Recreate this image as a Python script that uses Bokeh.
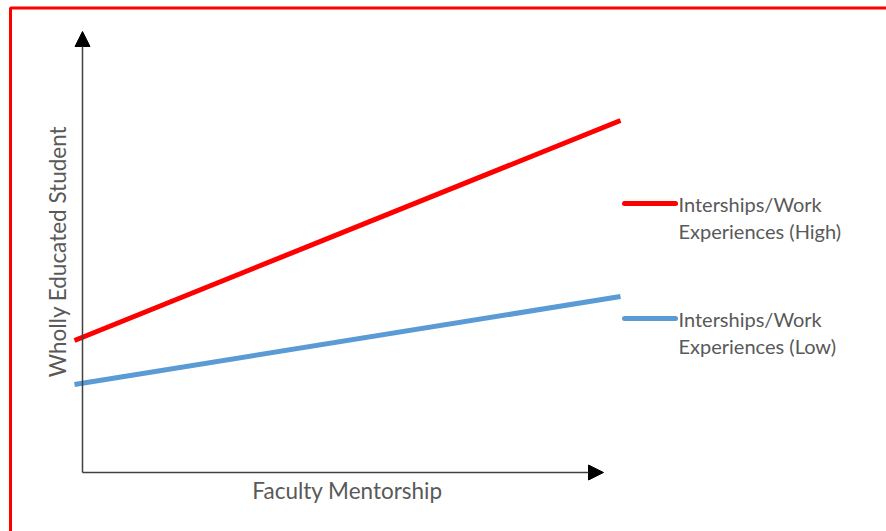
from bokeh.plotting import figure
from bokeh.models import Range1d, Arrow, NormalHead
from bokeh.core.properties import value
from bokeh.embed import file_html
from bokeh.resources import INLINE

# ---- data (conceptual interaction plot) ----
mentorship = [0, 10]              # Faculty Mentorship: low -> high
outcome_high = [3.0, 8.0]         # Interships/Work Experiences (High)
outcome_low = [2.0, 4.0]          # Interships/Work Experiences (Low)
series_labels = ["Interships/Work\nExperiences (High)", "Interships/Work\nExperiences (Low)"]
x_title = "Faculty Mentorship"
y_title = "Wholly Educated Student"

W, H = 886, 531
# pixel <-> data mapping helpers (layout only)
X0PX, X1PX = 74.0, 620.0
Y0PX, Y10PX = 472.0, 32.0
sx = (X1PX - X0PX) / 10.0
sy = (Y0PX - Y10PX) / 10.0
def px2x(px):
    return (px - X0PX) / sx
def py2y(py):
    return (Y0PX - py) / sy

p = figure(width=W, height=H, output_backend="svg", toolbar_location=None,
           x_range=Range1d(px2x(0), px2x(W)), y_range=Range1d(py2y(H), py2y(0)),
           min_border=0, min_border_left=0, min_border_right=0,
           min_border_top=0, min_border_bottom=0)
p.axis.visible = False
p.grid.visible = False
p.outline_line_color = None
p.background_fill_color = "white"
p.border_fill_color = "white"

RED = "#ff0000"
BLUE = "#5b9bd5"
GRAY = "#595959"
FONT = value("Lato")

# red frame (top and left edges)
p.line([px2x(10), px2x(10), px2x(W)], [py2y(H), py2y(7.5), py2y(7.5)],
       line_color=RED, line_width=3)

# axes with arrows
ax_x = px2x(82)
p.add_layout(Arrow(x_start=ax_x, y_start=0, x_end=ax_x, y_end=py2y(31),
                   line_color="#404040", line_width=1.5,
                   end=NormalHead(size=15, fill_color="black", line_color="black")))
p.add_layout(Arrow(x_start=ax_x, y_start=0, x_end=px2x(603), y_end=0,
                   line_color="#404040", line_width=1.5,
                   end=NormalHead(size=15, fill_color="black", line_color="black")))

# series lines
p.line(mentorship, outcome_high, line_color=RED, line_width=5)
p.line(mentorship, outcome_low, line_color=BLUE, line_width=5)

# legend (manual, to the right)
leg_y = [py2y(203), py2y(318)]
for yy, col, lab in zip(leg_y, [RED, BLUE], series_labels):
    p.line([px2x(624), px2x(675)], [yy, yy], line_color=col, line_width=5, line_cap="round")
    l1, l2 = lab.split("\n")
    p.text([px2x(678)], [yy], text=[l1], text_font=FONT, text_font_size="20px",
           text_color=GRAY, text_baseline="middle", text_align="left")
    p.text([px2x(678)], [yy - 27 / sy], text=[l2], text_font=FONT, text_font_size="20px",
           text_color=GRAY, text_baseline="middle", text_align="left")

# axis titles
p.text([px2x(347)], [py2y(490)], text=[x_title], text_font=FONT, text_font_size="22.5px",
       text_color=GRAY, text_baseline="middle", text_align="center")
p.text([px2x(57)], [py2y(251)], text=[y_title], text_font=FONT, text_font_size="22.5px",
       text_color=GRAY, text_baseline="middle", text_align="center", angle=1.5707963)

open("out.html", "w").write(file_html(p, INLINE))
